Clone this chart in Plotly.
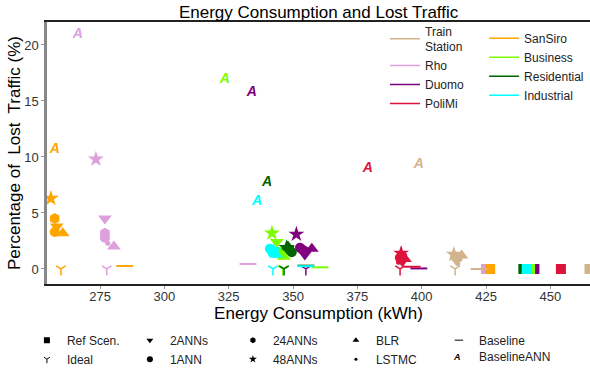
import plotly.graph_objects as go

regions = ["Train Station", "Rho", "Duomo", "PoliMi", "SanSiro", "Business", "Residential", "Industrial"]
region_labels = ["Train<br>Station", "Rho", "Duomo", "PoliMi", "SanSiro", "Business", "Residential", "Industrial"]
colors = ["#D2B48C", "#DDA0DD", "#800080", "#DC143C", "#FFA500", "#7CFC00", "#006400", "#00FFFF"]

# values per region (order as in `regions`)
ref_energy = [465.2, 425.0, 443.8, 454.1, 426.6, 442.1, 439.5, 440.8]
ref_lost = [0.0, 0.0, 0.0, 0.0, 0.0, 0.0, 0.0, 0.0]
ideal_energy = [413.0, 277.6, 355.0, 391.6, 259.8, 346.0, 346.5, 342.2]
ideal_lost = [0.0, 0.0, 0.0, 0.0, 0.0, 0.0, 0.0, 0.0]
ann2_energy = [413.5, 276.9, 354.6, 392.5, 258.2, 343.7, 348.0, 342.5]
ann2_lost = [0.8, 4.5, 1.3, 0.7, 3.8, 2.4, 1.8, 1.7]
ann1_energy = [413.0, 276.9, 352.7, 391.5, 257.4, 345.3, 349.5, 341.0]
ann1_lost = [1.1, 2.8, 1.9, 1.0, 3.3, 1.3, 1.5, 1.8]
ann24_energy = [414.0, 276.9, 354.0, 392.5, 257.4, 346.0, 348.5, 342.0]
ann24_lost = [1.0, 3.2, 1.7, 1.1, 4.5, 1.6, 1.7, 1.5]
ann48_energy = [412.5, 273.4, 351.3, 392.0, 255.9, 341.8, 347.5, 342.5]
ann48_lost = [1.3, 9.8, 3.1, 1.4, 6.3, 3.2, 1.9, 1.6]
blr_energy = [415.5, 280.4, 357.3, 393.5, 260.5, 346.5, 348.0, 343.5]
blr_lost = [1.2, 2.0, 1.8, 0.9, 3.2, 1.1, 2.0, 1.3]
lstmc_energy = [414.0, 278.0, 356.0, 391.0, 257.8, 346.0, 349.0, 343.0]
lstmc_lost = [0.5, 2.3, 1.6, 0.6, 3.5, 1.4, 1.6, 1.2]
baseline_energy = [422.3, 332.5, 398.9, 396.3, 284.6, 360.5, 355.0, 355.0]
baseline_lost = [0.0, 0.45, 0.05, 0.2, 0.27, 0.15, 0.3, 0.25]
baseann_energy = [398.9, 266.4, 334.0, 379.1, 257.4, 323.5, 339.9, 336.0]
baseann_lost = [9.3, 20.9, 15.8, 9.0, 10.7, 16.9, 7.7, 6.0]

method_names = ["Ref Scen.", "2ANNs", "24ANNs", "BLR", "Baseline",
                "Ideal", "1ANN", "48ANNs", "LSTMC", "BaselineANN"]

x_ticks = [275, 300, 325, 350, 375, 400, 425, 450]
y_ticks = [0, 5, 10, 15, 20]

FONT = "Liberation Sans, Arial, sans-serif"
fig = go.Figure()

def add_markers(xs, ys, symbol, size, line_only=False, lw=0):
    if line_only:
        marker = dict(symbol=symbol, size=size, color=colors,
                      line=dict(color=colors, width=lw))
    else:
        marker = dict(symbol=symbol, size=size, color=colors, line=dict(width=0))
    fig.add_trace(go.Scatter(x=xs, y=ys, mode="markers", marker=marker,
                             showlegend=False, hoverinfo="x+y"))

add_markers(ref_energy, ref_lost, "square", 10)
add_markers(ideal_energy, ideal_lost, "y-down", 8, line_only=True, lw=1.5)
add_markers(ann2_energy, ann2_lost, "triangle-down", 12)
add_markers(ann1_energy, ann1_lost, "circle", 10)
add_markers(ann24_energy, ann24_lost, "hexagon", 11)
add_markers(ann48_energy, ann48_lost, "star", 12)
add_markers(blr_energy, blr_lost, "triangle-up", 12)
add_markers(lstmc_energy, lstmc_lost, "circle", 5)
add_markers(baseline_energy, baseline_lost, "line-ew", 12, line_only=True, lw=2)
fig.add_trace(go.Scatter(x=baseann_energy, y=baseann_lost, mode="text",
                         text=["<b><i>A</i></b>"] * len(regions),
                         textfont=dict(color=colors, size=14, family=FONT),
                         textposition="middle center", showlegend=False))

# colour legends (two columns)
for i, (lab, c) in enumerate(zip(region_labels, colors)):
    fig.add_trace(go.Scatter(x=[None], y=[None], mode="lines", name=lab,
                             line=dict(color=c, width=1.5),
                             legend="legend2" if i < 4 else "legend3"))

# marker legend (BaselineANN uses a letter marker, drawn as annotation below)
leg_sym = {"Ref Scen.": ("square", 6), "2ANNs": ("triangle-down", 6), "24ANNs": ("hexagon", 6),
           "BLR": ("triangle-up", 6), "Baseline": ("line-ew", 6), "Ideal": ("y-down", 5),
           "1ANN": ("circle", 6), "48ANNs": ("star", 6), "LSTMC": ("circle", 3)}
for name in method_names[:-1]:
    sym, sz = leg_sym[name]
    lw = 1 if sym in ("line-ew", "y-down") else 0
    fig.add_trace(go.Scatter(x=[None], y=[None], mode="markers", name=name,
                             marker=dict(symbol=sym, size=sz, color="black",
                                         line=dict(color="black", width=lw)),
                             legend="legend"))

fig.update_layout(
    width=590, height=369,
    margin=dict(l=47, r=0, t=22, b=85, autoexpand=False),
    paper_bgcolor="white", plot_bgcolor="white",
    font=dict(family=FONT, color="#222"),
    title=dict(text="Energy Consumption and Lost Traffic", x=0.54, xanchor="center",
               y=0.967, yanchor="middle", font=dict(size=17, color="black")),
    xaxis=dict(range=[254.4, 465.4], tickvals=x_ticks, showgrid=False, zeroline=False,
               showline=True, linecolor="#222", linewidth=1.5, mirror=True, automargin=False,
               ticks="outside", ticklen=3, tickcolor="#999", tickfont=dict(size=13, color="#333"),
               ticklabelstandoff=-3,
               title=dict(text="Energy Consumption (kWh)", font=dict(size=17, color="black"), standoff=0)),
    yaxis=dict(range=[-1.34, 22.05], tickvals=y_ticks, showgrid=False, zeroline=False,
               showline=True, linecolor="#888", linewidth=2.5, automargin=False,
               ticks="outside", ticklen=3, tickcolor="#999", tickfont=dict(size=13, color="#333"),
               title=dict(text="Percentage of\u00a0 Lost\u00a0 Traffic (%)",
                          font=dict(size=17, color="black"), standoff=0)),
    legend=dict(orientation="h", x=-0.037, xanchor="left", y=-0.159, yanchor="top",
                entrywidth=58, entrywidthmode="pixels", font=dict(size=12, color="#222"),
                itemsizing="trace", bgcolor="rgba(0,0,0,0)", tracegroupgap=0),
    legend2=dict(x=0.6225, xanchor="left", y=1.02, yanchor="top", font=dict(size=12, color="#222"),
                 bgcolor="rgba(0,0,0,0)", tracegroupgap=0),
    legend3=dict(x=0.805, xanchor="left", y=0.993, yanchor="top", font=dict(size=12, color="#222"),
                 bgcolor="rgba(0,0,0,0)", tracegroupgap=0),
    showlegend=True,
)

fig.add_annotation(text="<b><i>A</i></b>", xref="paper", yref="paper", x=0.755, y=-0.2786,
                   xanchor="center", yanchor="middle", showarrow=False,
                   font=dict(size=9, color="black", family=FONT))
fig.add_annotation(text=method_names[-1], xref="paper", yref="paper", x=0.7925, y=-0.2786,
                   xanchor="left", yanchor="middle", showarrow=False,
                   font=dict(size=12, color="#222", family=FONT))

fig.write_html("out.html", config={"displayModeBar": False},
               post_script="document.body.style.margin='0';")
